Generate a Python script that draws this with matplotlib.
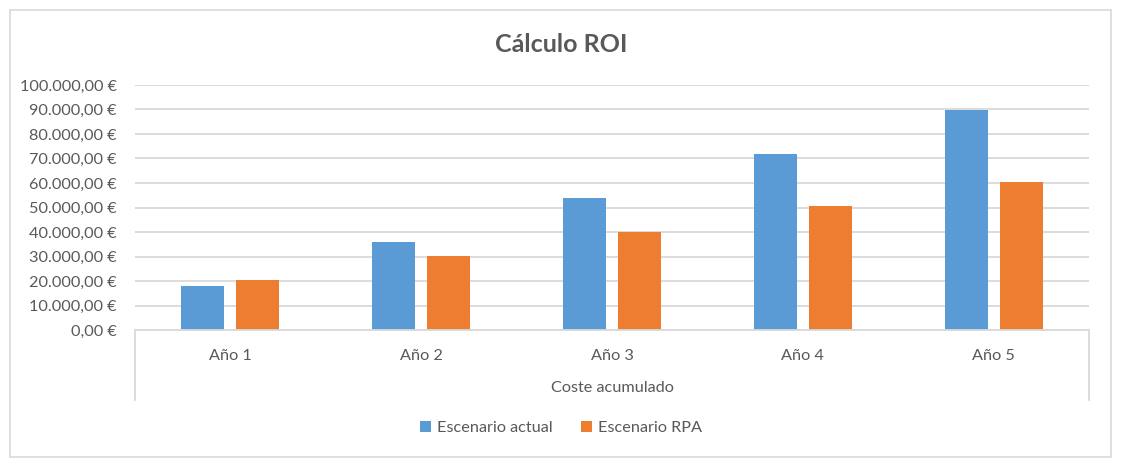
import matplotlib
matplotlib.use("Agg")
import matplotlib.pyplot as plt
from matplotlib.patches import Rectangle
from matplotlib.ticker import FuncFormatter, MultipleLocator
import numpy as np

categories = ["Año 1", "Año 2", "Año 3", "Año 4", "Año 5"]
series_names = ["Escenario actual", "Escenario RPA"]
actual = [17960, 35920, 53880, 71840, 89800]
rpa = [20400, 30300, 40200, 50500, 60400]
title = "Cálculo ROI"
group_label = "Coste acumulado"

BLUE = "#5b9bd5"
ORANGE = "#ed7d31"
TXT = "#595959"
GRID = "#d9d9d9"
FS = 11.7

plt.rcParams['font.family'] = ['Lato', 'DejaVu Sans']

W, H = 1122, 470
fig = plt.figure(figsize=(W / 100, H / 100), dpi=100)
fig.patch.set_facecolor("white")

# outer chart frame
fig.patches.append(Rectangle((10 / W, 1 - 457 / H), (1111 - 10) / W, (457 - 10) / H,
                             transform=fig.transFigure, fill=False,
                             edgecolor=GRID, linewidth=1.2))

ax = fig.add_axes([135 / W, 1 - 330 / H, (1089 - 135) / W, (330 - 85) / H])

x = np.arange(len(categories))
bw = 0.225
off = 0.144
b1 = ax.bar(x - off, actual, bw, color=BLUE, zorder=3, label=series_names[0])
b2 = ax.bar(x + off, rpa, bw, color=ORANGE, zorder=3, label=series_names[1])

ax.set_xlim(-0.5, len(categories) - 0.5)
ax.set_ylim(0, 100000)
ax.yaxis.set_major_locator(MultipleLocator(10000))


def eur(v, pos):
    s = f"{v:,.2f}"
    s = s.replace(",", "X").replace(".", ",").replace("X", ".")
    return s + " €"


ax.yaxis.set_major_formatter(FuncFormatter(eur))
ax.grid(axis="y", color=GRID, linewidth=1.3, zorder=0)
for sp in ["top", "right", "left"]:
    ax.spines[sp].set_visible(False)
ax.spines["bottom"].set_color(GRID)
ax.spines["bottom"].set_linewidth(1.3)
ax.spines["bottom"].set_zorder(4)

ax.set_xticks(x)
ax.set_xticklabels(categories)
ax.tick_params(axis="x", length=0, pad=14, labelsize=FS, labelcolor=TXT)
ax.tick_params(axis="y", length=0, pad=13, labelsize=FS, labelcolor=TXT)

# multi-level category axis boundary lines
tr = ax.get_xaxis_transform()
ybot = -(400 - 330) / (330 - 85)
for xv in (-0.5, len(categories) - 0.5):
    ax.plot([xv, xv], [0, ybot], transform=tr, color=GRID, lw=1.3, clip_on=False)

ax.text(0.5, -(388 - 330) / (330 - 85), group_label, transform=ax.transAxes,
        ha="center", va="center", fontsize=FS, color=TXT)

fig.text(0.5, 1 - 45 / H, title, ha="center", va="center", fontsize=18,
         fontweight="bold", color=TXT)

leg = fig.legend(handles=[b1, b2], labels=series_names, loc="center",
                 bbox_to_anchor=(0.5, 1 - 428 / H), ncol=2, frameon=False,
                 handlelength=0.65, handleheight=0.65, handletextpad=0.35,
                 columnspacing=1.8, fontsize=FS)
for t in leg.get_texts():
    t.set_color(TXT)

fig.savefig("out.png", dpi=100, facecolor="white")
